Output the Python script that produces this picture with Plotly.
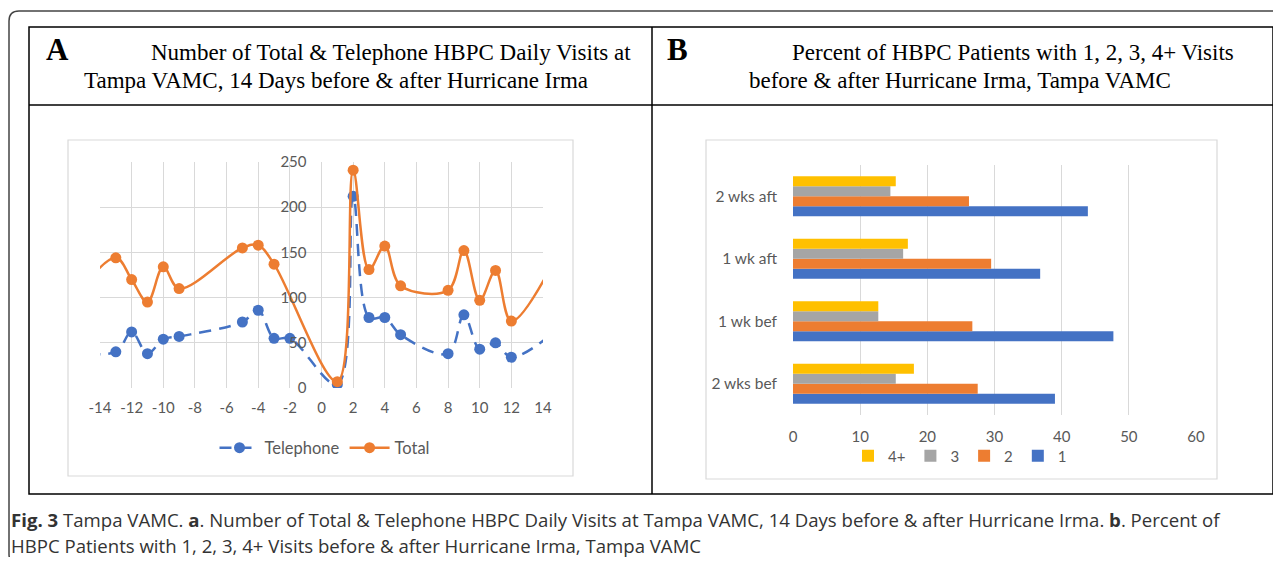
import plotly.graph_objects as go

# The page body keeps its default 8px margin, so the figure is 16px smaller than
# the 1281x565 window and every reference position is offset by 8px.
PAGE_W, PAGE_H = 1281, 565
OFF = 8
W, H = PAGE_W - 2 * OFF, PAGE_H - 2 * OFF

# ---------------- data ----------------
days = [-16, -13, -12, -11, -10, -9, -5, -4, -3, -2, 1, 2, 3, 4, 5, 8, 9, 10, 11, 12, 15]
telephone = [41, 40, 62, 38, 54, 57, 73, 86, 55, 55, 4, 212, 78, 78, 59, 38, 81, 43, 50, 34, 66]
total = [92, 144, 120, 95, 134, 110, 155, 158, 137, None, 7, 241, 131, 157, 113, 108, 152, 97, 130, 74, 150]
day_ticks = list(range(-14, 15, 2))
day_tick_labels = [str(d) for d in day_ticks]

periods = ["2 wks bef", "1 wk bef", "1 wk aft", "2 wks aft"]
visits_1 = [39.0, 47.7, 36.8, 43.9]
visits_2 = [27.5, 26.7, 29.5, 26.2]
visits_3 = [15.3, 12.7, 16.4, 14.5]
visits_4p = [18.0, 12.7, 17.1, 15.3]
visit_names = ["1", "2", "3", "4+"]

BLUE, ORANGE, GRAY, YELLOW = "#4472C4", "#ED7D31", "#A5A5A5", "#FFC000"
TXT = "#595959"
GRID = "#D9D9D9"
CHART_FONT = "Lato"


def px(x):
    return (x - OFF) / W


def py(y):
    return 1 - (y - OFF) / H


fig = go.Figure()

# ---------------- chart A ----------------
fig.add_trace(go.Scatter(
    x=days, y=telephone, name="Telephone", mode="lines+markers",
    line=dict(color=BLUE, width=2.5, dash="12px,8px", shape="spline"),
    marker=dict(color=BLUE, size=11), xaxis="x", yaxis="y", legend="legend",
    cliponaxis=True, connectgaps=True,
))
fig.add_trace(go.Scatter(
    x=days, y=total, name="Total", mode="lines+markers",
    line=dict(color=ORANGE, width=2.5, shape="spline"),
    marker=dict(color=ORANGE, size=11), xaxis="x", yaxis="y", legend="legend",
    cliponaxis=True, connectgaps=True,
))

# ---------------- chart B ----------------
for name, vals, col in zip(visit_names, [visits_1, visits_2, visits_3, visits_4p],
                           [BLUE, ORANGE, GRAY, YELLOW]):
    fig.add_trace(go.Bar(
        y=periods, x=vals, name=name, orientation="h",
        marker=dict(color=col, line=dict(width=0)),
        xaxis="x2", yaxis="y2", legend="legend2",
    ))

xA = [px(100), px(543)]
yA = [py(388), py(162)]
xB = [px(793), px(1196)]
yB = [py(415), py(165)]

fig.update_layout(
    width=W, height=H, autosize=False,
    margin=dict(l=0, r=0, t=0, b=0, pad=0, autoexpand=False),
    paper_bgcolor="white", plot_bgcolor="rgba(0,0,0,0)",
    showlegend=True,
    barmode="group", bargap=0.36, bargroupgap=0,
    xaxis=dict(domain=xA, range=[-14, 14], tickvals=day_ticks, ticktext=day_tick_labels,
               showgrid=True, gridcolor=GRID, gridwidth=1, zeroline=False, showline=False,
               tickfont=dict(family=CHART_FONT, size=15, color=TXT), ticks="",
               ticklabelstandoff=9, anchor="y", automargin=False),
    yaxis=dict(domain=yA, range=[0, 250], dtick=50, showgrid=True, gridcolor=GRID,
               gridwidth=1, zeroline=False, showline=False, anchor="free",
               position=(xA[0] + xA[1]) / 2, automargin=False,
               tickfont=dict(family=CHART_FONT, size=15, color=TXT), ticks="",
               ticklabelstandoff=15),
    xaxis2=dict(domain=xB, range=[0, 60], dtick=10, showgrid=True, gridcolor=GRID,
                gridwidth=1, zeroline=False, showline=False, anchor="y2", automargin=False,
                tickfont=dict(family=CHART_FONT, size=15, color=TXT), ticks="",
                ticklabelstandoff=11),
    yaxis2=dict(domain=yB, showgrid=False, zeroline=False, showline=False, anchor="x2",
                automargin=False,
                tickfont=dict(family=CHART_FONT, size=15.5, color=TXT), ticks="",
                ticklabelstandoff=15, categoryorder="array", categoryarray=periods),
    legend=dict(orientation="h", x=px(325), y=py(448), xanchor="center", yanchor="middle",
                font=dict(family=CHART_FONT, size=16.5, color=TXT), bgcolor="rgba(0,0,0,0)",
                itemwidth=40),
    legend2=dict(orientation="h", x=px(960), y=py(456), xanchor="center", yanchor="middle",
                 font=dict(family=CHART_FONT, size=15, color=TXT), bgcolor="rgba(0,0,0,0)",
                 traceorder="reversed", itemwidth=30),
)

shapes = []
# outer rounded border (runs off the right and bottom edges)
path = (f"M {px(1300)},{py(11)} L {px(19)},{py(11)} Q {px(9)},{py(11)} {px(9)},{py(21)} "
        f"L {px(9)},{py(554)} Q {px(9)},{py(564)} {px(19)},{py(564)} L {px(1300)},{py(564)}")
shapes.append(dict(type="path", path=path, xref="paper", yref="paper",
                   line=dict(color="#444444", width=1.5), layer="below"))
# table
shapes.append(dict(type="rect", xref="paper", yref="paper", x0=px(29), x1=px(1273),
                   y0=py(27), y1=py(494), line=dict(color="black", width=1.5), layer="below"))
shapes.append(dict(type="line", xref="paper", yref="paper", x0=px(29), x1=px(1273),
                   y0=py(105), y1=py(105), line=dict(color="black", width=1.5), layer="below"))
shapes.append(dict(type="line", xref="paper", yref="paper", x0=px(652), x1=px(652),
                   y0=py(27), y1=py(494), line=dict(color="black", width=1.5), layer="below"))
# chart frames
shapes.append(dict(type="rect", xref="paper", yref="paper", x0=px(68), x1=px(573),
                   y0=py(140), y1=py(476), line=dict(color=GRID, width=1.2), layer="below"))
shapes.append(dict(type="rect", xref="paper", yref="paper", x0=px(706), x1=px(1217),
                   y0=py(140), y1=py(479), line=dict(color=GRID, width=1.2), layer="below"))

SERIF = "Liberation Serif"
ann = []


def text(t, x, y, size, family=SERIF, color="black", xanchor="left"):
    ann.append(dict(text=t, x=px(x), y=py(y), xref="paper", yref="paper", showarrow=False,
                    xanchor=xanchor, yanchor="middle", borderpad=0,
                    font=dict(family=family, size=size, color=color)))


text("<b>A</b>", 45, 50, 31)
text("Number of Total &amp; Telephone HBPC Daily Visits at", 150, 53, 23)
text("Tampa VAMC, 14 Days before &amp; after Hurricane Irma", 83, 80, 23)
text("<b>B</b>", 666, 50, 31)
text("Percent of HBPC Patients with 1, 2, 3, 4+ Visits", 791, 53, 23)
text("before &amp; after Hurricane Irma, Tampa VAMC", 748, 80, 23)

CAP = "Open Sans"
text("<b>Fig. 3</b> Tampa VAMC. <b>a</b>. Number of Total &amp; Telephone HBPC Daily Visits at Tampa VAMC, "
     "14 Days before &amp; after Hurricane Irma. <b>b</b>. Percent of", 10, 519, 18.6, family=CAP, color="#333333")
text("HBPC Patients with 1, 2, 3, 4+ Visits before &amp; after Hurricane Irma, Tampa VAMC",
     10, 545, 18.6, family=CAP, color="#333333")

fig.update_layout(shapes=shapes, annotations=ann)

fig.write_html("out.html", config={"displayModeBar": False, "responsive": False})
